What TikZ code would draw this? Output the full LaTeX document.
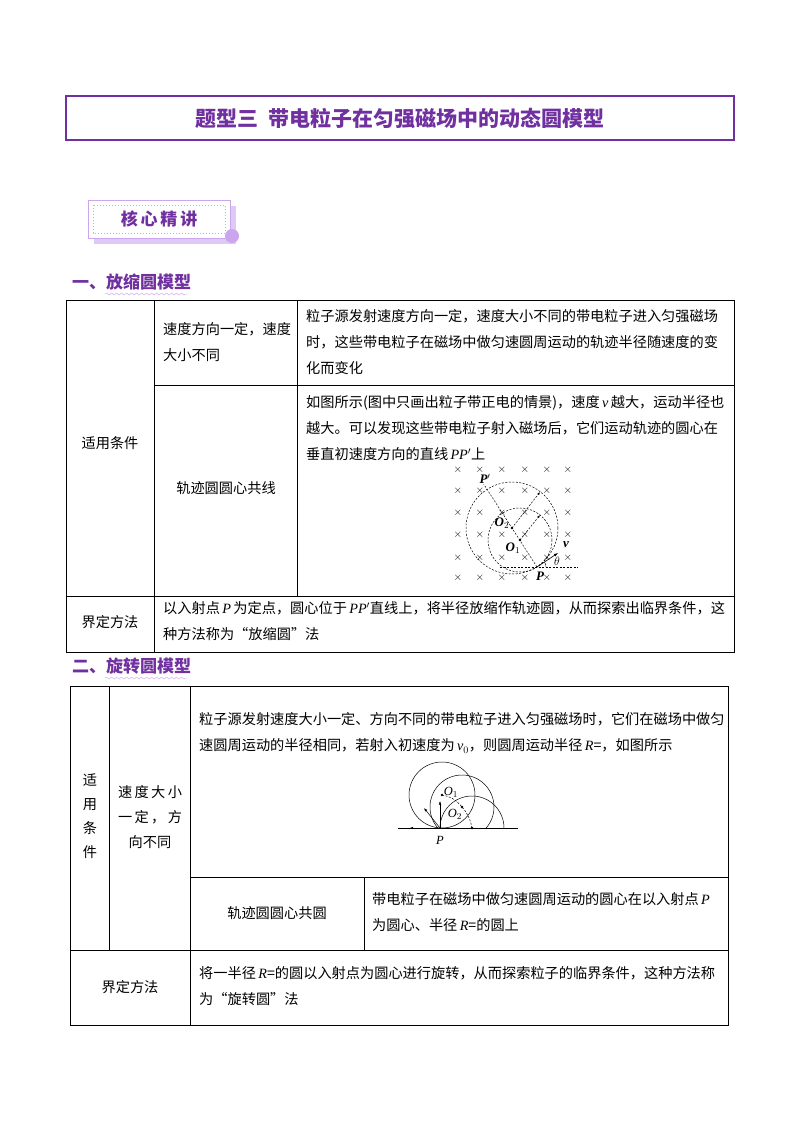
\documentclass[tikz,border=0pt]{standalone}
\usepackage{fontspec}
\setmainfont{Liberation Serif}
\newfontfamily\cjk{Noto Sans CJK SC}
\newcommand\mi[1]{{\rmfamily\itshape #1}}
\usetikzlibrary{decorations.pathmorphing,arrows.meta}
\definecolor{pur}{HTML}{7030A0}
\definecolor{lpur}{HTML}{C9A6EE}
\begin{document}
\begin{tikzpicture}[x=1pt,y=-1pt,
  txt/.style={anchor=west,inner sep=0pt,font=\cjk\fontsize{14.2}{26}\selectfont,align=left},
  ctxt/.style={inner sep=0pt,font=\cjk\fontsize{14.2}{26}\selectfont,align=center},
  tline/.style={line width=0.8pt},
  cross/.style={inner sep=0pt,font=\fontsize{11}{11}\selectfont},
  dsh/.style={dashed,dash pattern=on 2pt off 1.5pt,line width=0.5pt},
  lab/.style={inner sep=0pt,font=\rmfamily\fontsize{12.5}{12}\selectfont\itshape}]
\useasboundingbox (0,0) rectangle (800,1132);
\fill[white] (0,0) rectangle (800,1132);
% title
\node[draw=pur,line width=2pt,minimum width=668pt,minimum height=44pt,inner sep=0pt] (title) at (400,118) {};
\node[text=pur,font=\cjk\bfseries\fontsize{21}{21}\selectfont] (tt) at (title) {题型三\ \ 带电粒子在匀强磁场中的动态圆模型};
% badge
\fill[lpur!60] (94,206) rectangle (236,244);
\fill[white] (88,200) rectangle (230,238);
\draw[lpur,line width=1pt] (88,200) rectangle (230,238);
\draw[lpur,dotted,line width=1pt] (93,205) rectangle (225,233);
\fill[lpur] (232,236) circle (7pt);
\node[text=pur,font=\cjk\bfseries\fontsize{17}{17}\selectfont] (badge) at (159,219) {核\,心\,精\,讲};
% heading 1
\node[anchor=west,inner sep=0pt,text=pur,font=\cjk\bfseries\fontsize{17}{17}\selectfont] (h1) at (72,282) {一、放缩圆模型};
\draw[lpur,decorate,decoration={snake,amplitude=1pt,segment length=5pt}] (105,294) -- (188,294);
% table 1
\draw[tline] (66,300) rectangle (734,652);
\draw[tline] (154,300) -- (154,652);
\draw[tline] (297,300) -- (297,596);
\draw[tline] (154,385) -- (734,385);
\draw[tline] (66,596) -- (734,596);
\node[ctxt] (t1a) at (110,443) {适用条件};
\node[txt] (t1b) at (163,342) {速度方向一定，速度\\大小不同};
\node[txt] (t1c) at (306,342) {粒子源发射速度方向一定，速度大小不同的带电粒子进入匀强磁场\\时，这些带电粒子在磁场中做匀速圆周运动的轨迹半径随速度的变\\化而变化};
\node[ctxt] (t1d) at (226,488) {轨迹圆圆心共线};
\node[txt] (t1e) at (306,428) {如图所示(图中只画出粒子带正电的情景)，速度\,\mi{v}\,越大，运动半径也\\越大。可以发现这些带电粒子射入磁场后，它们运动轨迹的圆心在\\垂直初速度方向的直线\,\mi{PP}$'$上};
\node[ctxt] (t1f) at (110,622) {界定方法};
\node[txt] (t1g) at (163,621) {以入射点\,\mi{P}\,为定点，圆心位于\,\mi{PP}$'$直线上，将半径放缩作轨迹圆，从而探索出临界条件，这\\种方法称为“放缩圆”法};
% figure 1
\foreach \x in {458,480,502,525,547,568}
  \foreach \y in {470,491,513,535,558,578}
    \node[cross] at (\x,\y) {$\times$};
\coordinate (P) at (537,567);
\coordinate (Pp) at (483,483);
\coordinate (O1) at (520,540);
\coordinate (O2) at (512,528);
\draw[dsh] (O1) circle (32);
\draw[dsh] (O2) circle (46);
\draw[dsh] (P) -- (Pp);
\draw[dsh] (500,567) -- (578,567);
\draw[dsh,-{Latex[length=3pt]}] (O1) -- (540,515);
\draw[dsh,-{Latex[length=3pt]}] (O2) -- (540,492);
\fill (O1) circle (1.3pt); \fill (O2) circle (1.3pt);
\draw[-{Latex[length=4pt]},line width=0.6pt] (P) -- (558,553);
\draw[line width=0.4pt] (546,567) arc (0:-33:9) ;
\node[lab,font=\rmfamily\bfseries\itshape\fontsize{13}{13}\selectfont,fill=white,inner sep=0.5pt] (lPp) at (485,479) {P$'$};
\node[lab,font=\rmfamily\bfseries\itshape\fontsize{13}{13}\selectfont] (lO2) at (502,523) {O$_2$};
\node[lab,font=\rmfamily\bfseries\itshape\fontsize{13}{13}\selectfont] (lO1) at (513,548) {O$_1$};
\node[lab,font=\rmfamily\bfseries\itshape\fontsize{13}{13}\selectfont] (lP) at (540,576) {P};
\node[lab,font=\rmfamily\bfseries\itshape\fontsize{13}{13}\selectfont] (lv) at (566,545) {v};
\node[lab,font=\rmfamily\bfseries\fontsize{13}{13}\selectfont] (lth) at (557,561) {$\theta$};
% heading 2
\node[anchor=west,inner sep=0pt,text=pur,font=\cjk\bfseries\fontsize{17}{17}\selectfont] (h2) at (72,666) {二、旋转圆模型};
\draw[lpur,decorate,decoration={snake,amplitude=1pt,segment length=5pt}] (105,678) -- (188,678);
% table 2
\draw[tline] (70,686) rectangle (728,1025);
\draw[tline] (109,686) -- (109,950);
\draw[tline] (190,686) -- (190,1025);
\draw[tline] (190,877) -- (728,877);
\draw[tline] (364,877) -- (364,950);
\draw[tline] (70,950) -- (728,950);
\node[ctxt,font=\cjk\fontsize{14.2}{24}\selectfont] (t2a) at (90,816) {适\\用\\条\\件};
\node[ctxt,font=\cjk\fontsize{14.2}{25}\selectfont] (t2b) at (150,817) {速\,度\,大\,小\\一\,定\,，\,方\\向不同};
\node[txt] (t2c) at (199,733) {粒子源发射速度大小一定、方向不同的带电粒子进入匀强磁场时，它们在磁场中做匀\\速圆周运动的半径相同，若射入初速度为\,\mi{v}$_0$，则圆周运动半径\,\mi{R}=，如图所示};
\node[ctxt] (t2d) at (277,913) {轨迹圆圆心共圆};
\node[txt] (t2e) at (372,912) {带电粒子在磁场中做匀速圆周运动的圆心在以入射点\,\mi{P}\\为圆心、半径\,\mi{R}=的圆上};
\node[ctxt] (t2f) at (130,987) {界定方法};
\node[txt] (t2g) at (199,986) {将一半径\,\mi{R}=的圆以入射点为圆心进行旋转，从而探索粒子的临界条件，这种方法称\\为“旋转圆”法};
% figure 2
\coordinate (Q) at (440,828);
\coordinate (Q1) at (442,795);
\coordinate (Q2) at (462,807);
\coordinate (Q3) at (472,828);
\begin{scope}
\clip (380,740) rectangle (530,828);
\draw[line width=0.5pt] (Q1) circle (33);
\draw[line width=0.5pt] (Q2) circle (32);
\draw[line width=0.5pt] (Q3) circle (32);
\end{scope}
\draw[line width=0.6pt] (398,828) -- (518,828);
\draw[-{Latex[length=3pt]},line width=0.4pt] (416,828) -- (410,828);
\draw[dsh] (Q1) to[bend left=20] (Q2) to[bend left=15] (Q3);
\draw[-{Latex[length=3.5pt]},line width=0.5pt] (Q) -- (424,808);
\draw[-{Latex[length=3.5pt]},line width=0.5pt] (Q) -- (440,801);
\fill (Q1) circle (1.3pt); \fill (Q2) circle (1.3pt); \fill (Q3) circle (1.3pt);
\node[lab] (lQ1) at (451,792) {O$_1$};
\node[lab] (lQ2) at (455,814) {O$_2$};
\node[lab] (lQ) at (440,840) {P};
\end{tikzpicture}
\end{document}
